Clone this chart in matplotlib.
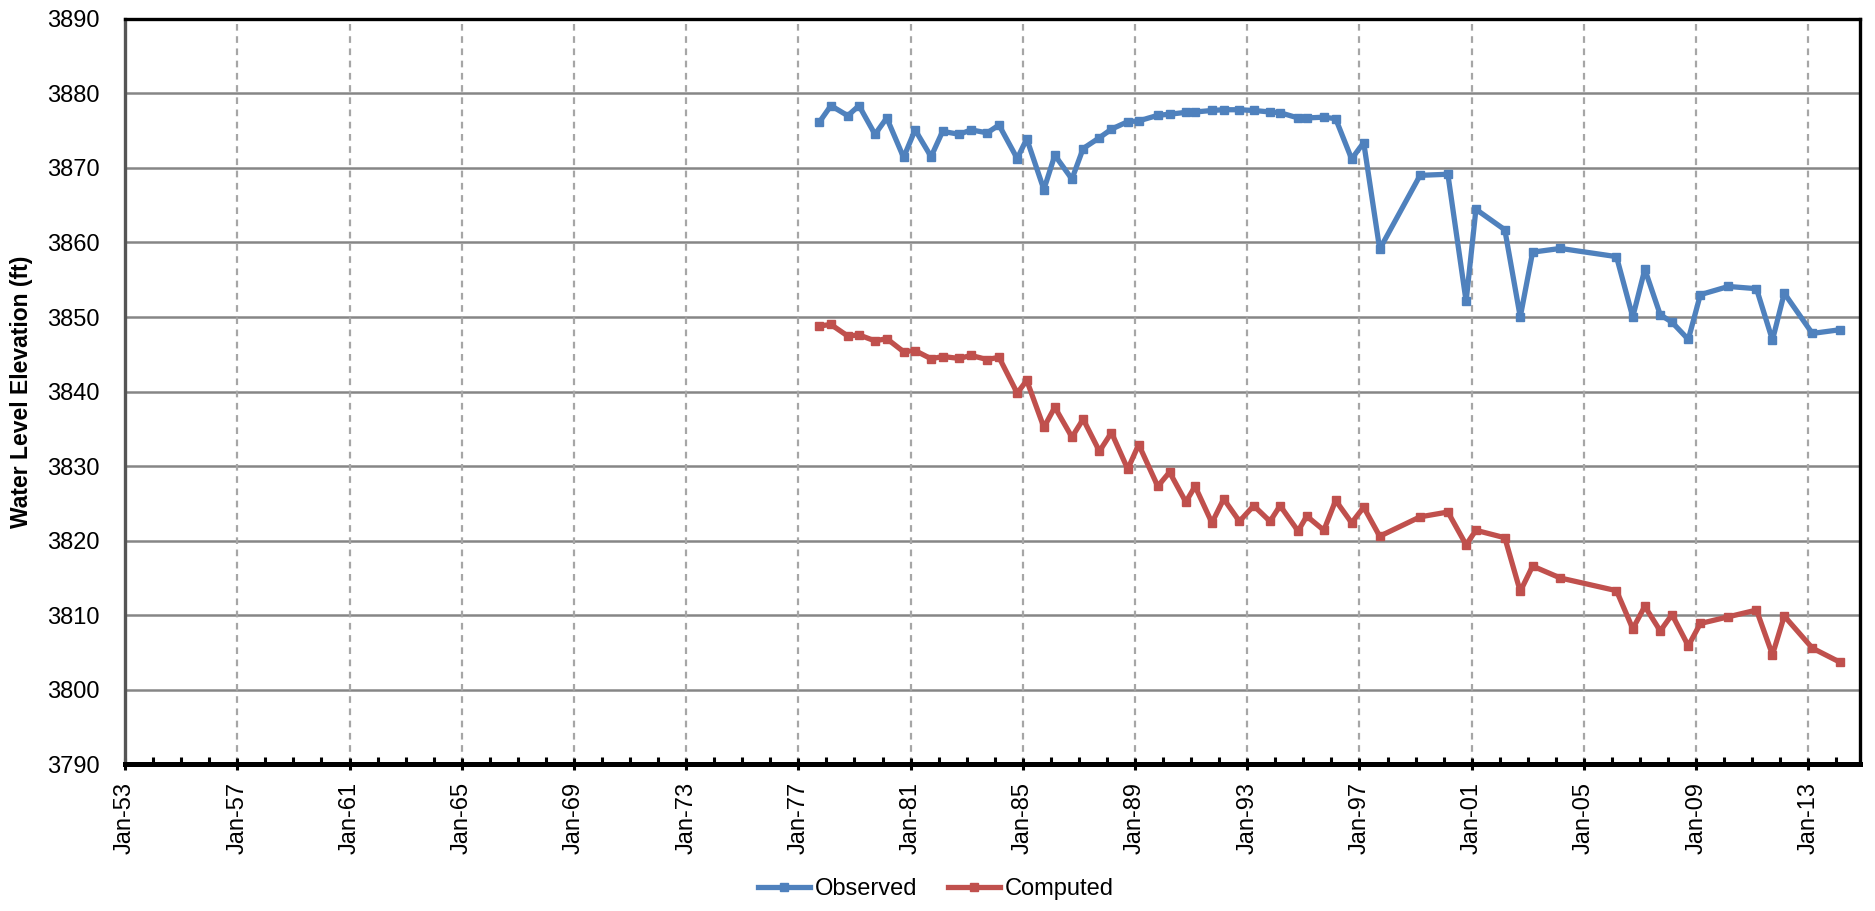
import numpy as np
import matplotlib
matplotlib.use('Agg')
import matplotlib.pyplot as plt
from matplotlib.ticker import FixedLocator, MultipleLocator

# sample dates as decimal years
dates = [1977.74, 1978.16, 1978.76, 1979.16, 1979.73, 1980.15, 1980.75, 1981.16, 1981.73, 1982.14,
         1982.74, 1983.15, 1983.73, 1984.15, 1984.80, 1985.14, 1985.75, 1986.14, 1986.75, 1987.15,
         1987.73, 1988.16, 1988.74, 1989.13, 1989.81, 1990.23, 1990.81, 1991.14, 1991.74, 1992.16,
         1992.72, 1993.23, 1993.81, 1994.17, 1994.81, 1995.12, 1995.73, 1996.15, 1996.72, 1997.15,
         1997.72, 1999.16, 2000.15, 2000.80, 2001.15, 2002.18, 2002.73, 2003.17, 2004.16, 2006.16,
         2006.74, 2007.17, 2007.72, 2008.14, 2008.72, 2009.15, 2010.15, 2011.15, 2011.72, 2012.14,
         2013.14, 2014.13]

observed = [3876.1, 3878.35, 3877.0, 3878.35, 3874.5, 3876.7, 3871.4, 3875.1, 3871.5, 3874.9,
            3874.5, 3875.1, 3874.7, 3875.75, 3871.25, 3873.9, 3867.1, 3871.7, 3868.5, 3872.6,
            3874.05, 3875.2, 3876.2, 3876.3, 3877.05, 3877.2, 3877.45, 3877.5, 3877.7, 3877.8,
            3877.8, 3877.7, 3877.5, 3877.4, 3876.7, 3876.7, 3876.8, 3876.6, 3871.2, 3873.4,
            3859.1, 3869.0, 3869.15, 3852.1, 3864.45, 3861.7, 3850.0, 3858.7, 3859.2, 3858.1,
            3850.0, 3856.4, 3850.3, 3849.3, 3847.0, 3853.0, 3854.1, 3853.8, 3846.9, 3853.2,
            3847.8, 3848.3]

computed = [3848.8, 3849.0, 3847.45, 3847.6, 3846.8, 3847.1, 3845.35, 3845.5, 3844.4, 3844.7,
            3844.45, 3844.85, 3844.3, 3844.6, 3839.8, 3841.5, 3835.2, 3837.9, 3833.9, 3836.3,
            3832.0, 3834.5, 3829.6, 3832.9, 3827.3, 3829.2, 3825.2, 3827.3, 3822.4, 3825.6,
            3822.6, 3824.7, 3822.6, 3824.7, 3821.3, 3823.3, 3821.4, 3825.4, 3822.4, 3824.5,
            3820.6, 3823.2, 3823.85, 3819.45, 3821.4, 3820.4, 3813.2, 3816.6, 3815.0, 3813.3,
            3808.2, 3811.2, 3807.9, 3810.1, 3805.9, 3808.9, 3809.8, 3810.7, 3804.7, 3809.9,
            3805.6, 3803.7]

tick_years = list(range(1953, 2014, 4))
tick_labels = ['Jan-%02d' % (y % 100) for y in tick_years]

plt.rcParams['font.family'] = ['Liberation Sans', 'DejaVu Sans']

fig = plt.figure(figsize=(18.75, 9.11), dpi=100)
ax = fig.add_axes([0.0667, 0.1609, 0.9253, 0.8185])

# grid
for v in range(3800, 3890, 10):
    ax.axhline(v, color='#868686', lw=1.8, zorder=1)
for y in tick_years[1:]:
    ax.axvline(y, color='#a6a6a6', lw=1.6, linestyle=(0, (3, 2.5)), zorder=1)

ax.plot(dates, observed, color='#4f81bd', lw=3.8, marker='s', markersize=6.2, label='Observed', zorder=3)
ax.plot(dates, computed, color='#c0504d', lw=3.8, marker='s', markersize=6.2, label='Computed', zorder=3)

ax.set_xlim(1953, 2014.84)
ax.set_ylim(3790, 3890)
ax.yaxis.set_major_locator(MultipleLocator(10))
ax.xaxis.set_major_locator(FixedLocator(tick_years))
ax.xaxis.set_minor_locator(MultipleLocator(1))
ax.set_xticklabels(tick_labels, rotation=90, fontsize=17)
ax.tick_params(axis='y', length=0, pad=18, labelsize=17)
ax.tick_params(axis='x', which='major', direction='inout', length=9, width=2.2, pad=8)
ax.tick_params(axis='x', which='minor', direction='in', length=5, width=2.2)

for s in ['top', 'right']:
    ax.spines[s].set_linewidth(2.4)
ax.spines['bottom'].set_linewidth(3.6)
ax.spines['left'].set_linewidth(2.4)
ax.spines['left'].set_color('#555555')

ax.set_ylabel('Water Level Elevation (ft)', fontsize=16.5, fontweight='bold')
ax.yaxis.set_label_coords(-0.053, 0.5)

fig.legend(loc='center', bbox_to_anchor=(0.499, 0.024), ncol=2, frameon=False, fontsize=17,
           handlelength=2.2, handletextpad=0.2, columnspacing=1.3)

fig.savefig('out.png', dpi=100)
